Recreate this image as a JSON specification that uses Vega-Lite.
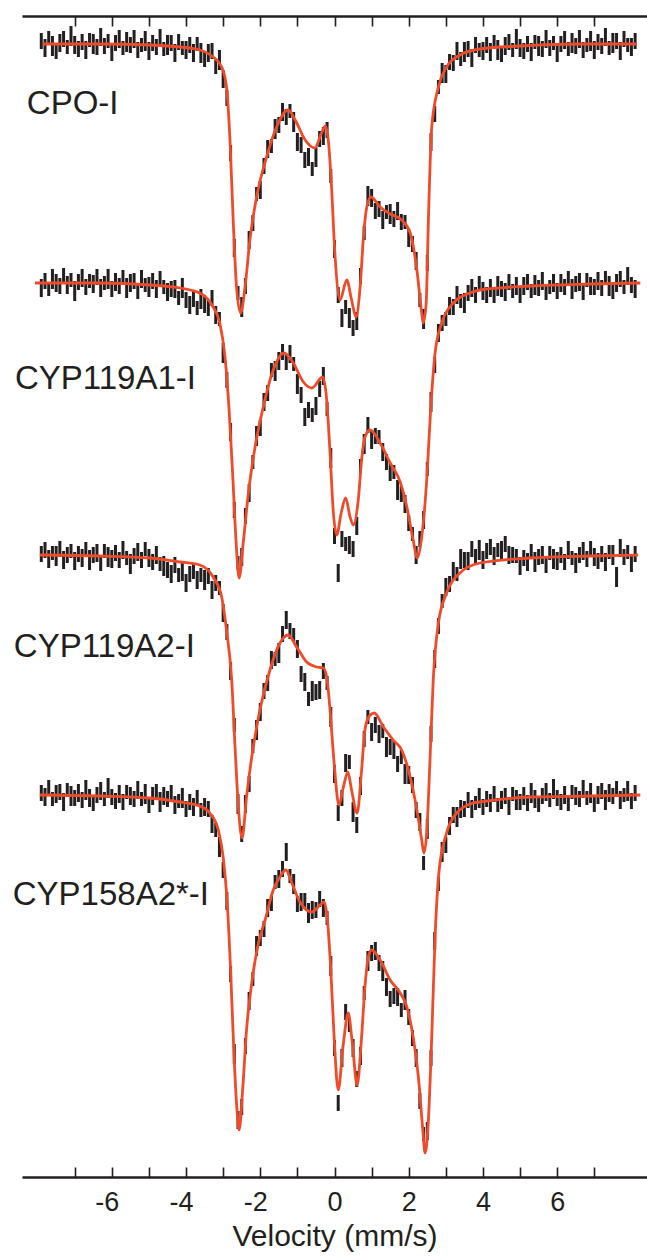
{
"$schema":"https://vega.github.io/schema/vega-lite/v6.json",
"width":625,"height":1161,"autosize":"none",
"padding":{"left":22,"top":16,"right":0,"bottom":79},
"background":"white",
"config":{"view":{"stroke":null},"font":"Liberation Sans","axis":{"grid":false}},
"datasets":{
"lab":[
{"label":"CPO-I","v":-8.29,"t":10.63},
{"label":"CYP119A1-I","v":-8.61,"t":7.88},
{"label":"CYP119A2-I","v":-8.64,"t":5.2},
{"label":"CYP158A2*-I","v":-8.67,"t":2.72}
],
"fit":[
{"s":1,"v":-7.86,"t":11.33},{"s":1,"v":-6.32,"t":11.33},{"s":1,"v":-4.97,"t":11.32},{"s":1,"v":-4.16,"t":11.3},{"s":1,"v":-3.63,"t":11.27},{"s":1,"v":-3.27,"t":11.2},{"s":1,"v":-3.04,"t":11.1},{"s":1,"v":-2.91,"t":10.9},{"s":1,"v":-2.82,"t":10.4},{"s":1,"v":-2.73,"t":9.57},{"s":1,"v":-2.64,"t":8.9},{"s":1,"v":-2.53,"t":8.64},{"s":1,"v":-2.41,"t":8.9},{"s":1,"v":-2.28,"t":9.37},{"s":1,"v":-2.1,"t":9.8},{"s":1,"v":-1.83,"t":10.2},{"s":1,"v":-1.56,"t":10.5},{"s":1,"v":-1.25,"t":10.67},{"s":1,"v":-1.06,"t":10.57},{"s":1,"v":-0.79,"t":10.37},{"s":1,"v":-0.53,"t":10.29},{"s":1,"v":-0.35,"t":10.44},{"s":1,"v":-0.24,"t":10.51},{"s":1,"v":-0.15,"t":10.3},{"s":1,"v":-0.08,"t":9.9},{"s":1,"v":0.01,"t":9.24},{"s":1,"v":0.15,"t":8.77},{"s":1,"v":0.33,"t":8.97},{"s":1,"v":0.46,"t":8.77},{"s":1,"v":0.58,"t":8.6},{"s":1,"v":0.69,"t":8.9},{"s":1,"v":0.78,"t":9.4},{"s":1,"v":0.87,"t":9.7},{"s":1,"v":0.98,"t":9.8},{"s":1,"v":1.23,"t":9.7},{"s":1,"v":1.5,"t":9.63},{"s":1,"v":1.81,"t":9.57},{"s":1,"v":2.04,"t":9.44},{"s":1,"v":2.22,"t":9.07},{"s":1,"v":2.35,"t":8.64},{"s":1,"v":2.39,"t":8.54},{"s":1,"v":2.47,"t":8.74},{"s":1,"v":2.53,"t":9.57},{"s":1,"v":2.62,"t":10.5},{"s":1,"v":2.8,"t":10.9},{"s":1,"v":3.02,"t":11.1},{"s":1,"v":3.38,"t":11.22},{"s":1,"v":3.92,"t":11.28},{"s":1,"v":5.0,"t":11.31},{"s":1,"v":6.62,"t":11.33},{"s":1,"v":8.15,"t":11.33},
{"s":2,"v":-8.07,"t":8.94},{"s":2,"v":-6.32,"t":8.94},{"s":2,"v":-4.97,"t":8.92},{"s":2,"v":-4.16,"t":8.89},{"s":2,"v":-3.63,"t":8.84},{"s":2,"v":-3.27,"t":8.7},{"s":2,"v":-3.09,"t":8.54},{"s":2,"v":-2.95,"t":8.2},{"s":2,"v":-2.84,"t":7.67},{"s":2,"v":-2.74,"t":7.0},{"s":2,"v":-2.65,"t":6.34},{"s":2,"v":-2.57,"t":5.99},{"s":2,"v":-2.46,"t":6.34},{"s":2,"v":-2.32,"t":6.84},{"s":2,"v":-2.14,"t":7.3},{"s":2,"v":-1.92,"t":7.7},{"s":2,"v":-1.65,"t":8.07},{"s":2,"v":-1.36,"t":8.24},{"s":2,"v":-1.11,"t":8.14},{"s":2,"v":-0.84,"t":7.95},{"s":2,"v":-0.61,"t":7.89},{"s":2,"v":-0.32,"t":8.0},{"s":2,"v":-0.21,"t":7.77},{"s":2,"v":-0.12,"t":7.24},{"s":2,"v":-0.03,"t":6.64},{"s":2,"v":0.06,"t":6.42},{"s":2,"v":0.18,"t":6.64},{"s":2,"v":0.3,"t":6.79},{"s":2,"v":0.42,"t":6.6},{"s":2,"v":0.51,"t":6.52},{"s":2,"v":0.64,"t":6.77},{"s":2,"v":0.73,"t":7.17},{"s":2,"v":0.82,"t":7.4},{"s":2,"v":0.96,"t":7.47},{"s":2,"v":1.23,"t":7.34},{"s":2,"v":1.5,"t":7.14},{"s":2,"v":1.77,"t":6.95},{"s":2,"v":1.95,"t":6.7},{"s":2,"v":2.12,"t":6.37},{"s":2,"v":2.23,"t":6.19},{"s":2,"v":2.35,"t":6.4},{"s":2,"v":2.49,"t":7.0},{"s":2,"v":2.59,"t":7.67},{"s":2,"v":2.71,"t":8.24},{"s":2,"v":2.89,"t":8.54},{"s":2,"v":3.2,"t":8.74},{"s":2,"v":3.65,"t":8.84},{"s":2,"v":3.92,"t":8.87},{"s":2,"v":5.27,"t":8.91},{"s":2,"v":6.89,"t":8.93},{"s":2,"v":8.24,"t":8.94},
{"s":3,"v":-7.94,"t":6.22},{"s":3,"v":-6.32,"t":6.21},{"s":3,"v":-4.97,"t":6.19},{"s":3,"v":-4.16,"t":6.15},{"s":3,"v":-3.63,"t":6.12},{"s":3,"v":-3.27,"t":6.0},{"s":3,"v":-3.04,"t":5.8},{"s":3,"v":-2.91,"t":5.47},{"s":3,"v":-2.77,"t":4.97},{"s":3,"v":-2.68,"t":4.3},{"s":3,"v":-2.59,"t":3.7},{"s":3,"v":-2.49,"t":3.39},{"s":3,"v":-2.37,"t":3.8},{"s":3,"v":-2.23,"t":4.2},{"s":3,"v":-2.01,"t":4.67},{"s":3,"v":-1.74,"t":5.07},{"s":3,"v":-1.47,"t":5.34},{"s":3,"v":-1.25,"t":5.42},{"s":3,"v":-1.02,"t":5.3},{"s":3,"v":-0.75,"t":5.15},{"s":3,"v":-0.48,"t":5.1},{"s":3,"v":-0.3,"t":5.09},{"s":3,"v":-0.21,"t":5.0},{"s":3,"v":-0.12,"t":4.67},{"s":3,"v":-0.01,"t":4.14},{"s":3,"v":0.12,"t":3.72},{"s":3,"v":0.24,"t":3.9},{"s":3,"v":0.36,"t":4.05},{"s":3,"v":0.46,"t":3.87},{"s":3,"v":0.61,"t":3.64},{"s":3,"v":0.73,"t":4.07},{"s":3,"v":0.82,"t":4.47},{"s":3,"v":0.94,"t":4.61},{"s":3,"v":1.07,"t":4.64},{"s":3,"v":1.32,"t":4.5},{"s":3,"v":1.58,"t":4.37},{"s":3,"v":1.81,"t":4.27},{"s":3,"v":2.04,"t":4.0},{"s":3,"v":2.22,"t":3.67},{"s":3,"v":2.35,"t":3.37},{"s":3,"v":2.41,"t":3.24},{"s":3,"v":2.49,"t":3.47},{"s":3,"v":2.57,"t":4.14},{"s":3,"v":2.66,"t":4.97},{"s":3,"v":2.8,"t":5.54},{"s":3,"v":3.02,"t":5.84},{"s":3,"v":3.38,"t":6.04},{"s":3,"v":3.92,"t":6.14},{"s":3,"v":5.27,"t":6.19},{"s":3,"v":6.89,"t":6.21},{"s":3,"v":8.18,"t":6.22},
{"s":4,"v":-7.94,"t":3.82},{"s":4,"v":-6.32,"t":3.81},{"s":4,"v":-4.97,"t":3.79},{"s":4,"v":-4.16,"t":3.75},{"s":4,"v":-3.63,"t":3.71},{"s":4,"v":-3.36,"t":3.64},{"s":4,"v":-3.13,"t":3.47},{"s":4,"v":-3.0,"t":3.2},{"s":4,"v":-2.89,"t":2.74},{"s":4,"v":-2.8,"t":2.07},{"s":4,"v":-2.71,"t":1.24},{"s":4,"v":-2.64,"t":0.74},{"s":4,"v":-2.57,"t":0.47},{"s":4,"v":-2.47,"t":0.9},{"s":4,"v":-2.37,"t":1.47},{"s":4,"v":-2.23,"t":1.94},{"s":4,"v":-2.05,"t":2.34},{"s":4,"v":-1.87,"t":2.57},{"s":4,"v":-1.65,"t":2.87},{"s":4,"v":-1.47,"t":3.0},{"s":4,"v":-1.31,"t":3.07},{"s":4,"v":-1.15,"t":2.94},{"s":4,"v":-0.93,"t":2.75},{"s":4,"v":-0.61,"t":2.65},{"s":4,"v":-0.39,"t":2.72},{"s":4,"v":-0.28,"t":2.75},{"s":4,"v":-0.19,"t":2.57},{"s":4,"v":-0.1,"t":2.07},{"s":4,"v":-0.01,"t":1.4},{"s":4,"v":0.1,"t":0.87},{"s":4,"v":0.24,"t":1.34},{"s":4,"v":0.37,"t":1.64},{"s":4,"v":0.48,"t":1.34},{"s":4,"v":0.61,"t":0.92},{"s":4,"v":0.73,"t":1.4},{"s":4,"v":0.82,"t":1.9},{"s":4,"v":0.91,"t":2.2},{"s":4,"v":1.0,"t":2.27},{"s":4,"v":1.23,"t":2.17},{"s":4,"v":1.5,"t":1.97},{"s":4,"v":1.77,"t":1.84},{"s":4,"v":1.95,"t":1.7},{"s":4,"v":2.12,"t":1.4},{"s":4,"v":2.26,"t":1.0},{"s":4,"v":2.38,"t":0.47},{"s":4,"v":2.44,"t":0.24},{"s":4,"v":2.53,"t":0.57},{"s":4,"v":2.62,"t":1.4},{"s":4,"v":2.71,"t":2.4},{"s":4,"v":2.82,"t":3.07},{"s":4,"v":3.02,"t":3.44},{"s":4,"v":3.29,"t":3.64},{"s":4,"v":3.74,"t":3.74},{"s":4,"v":3.92,"t":3.75},{"s":4,"v":5.27,"t":3.8},{"s":4,"v":6.89,"t":3.81},{"s":4,"v":8.24,"t":3.82}
],
"pts":[
{"s":1,"v":-7.9,"c":11.36,"e":0.08},{"s":1,"v":-7.8,"c":11.29,"e":0.09},{"s":1,"v":-7.7,"c":11.39,"e":0.07},{"s":1,"v":-7.6,"c":11.31,"e":0.1},{"s":1,"v":-7.5,"c":11.26,"e":0.08},{"s":1,"v":-7.4,"c":11.34,"e":0.09},{"s":1,"v":-7.3,"c":11.38,"e":0.08},{"s":1,"v":-7.2,"c":11.3,"e":0.07},{"s":1,"v":-7.1,"c":11.41,"e":0.1},{"s":1,"v":-7.0,"c":11.32,"e":0.09},
{"s":1,"v":-6.9,"c":11.28,"e":0.08},{"s":1,"v":-6.8,"c":11.35,"e":0.08},{"s":1,"v":-6.7,"c":11.27,"e":0.09},{"s":1,"v":-6.6,"c":11.37,"e":0.07},{"s":1,"v":-6.5,"c":11.33,"e":0.1},{"s":1,"v":-6.4,"c":11.3,"e":0.08},{"s":1,"v":-6.3,"c":11.4,"e":0.09},{"s":1,"v":-6.2,"c":11.31,"e":0.08},{"s":1,"v":-6.1,"c":11.36,"e":0.07},{"s":1,"v":-6.0,"c":11.25,"e":0.09},
{"s":1,"v":-5.9,"c":11.34,"e":0.08},{"s":1,"v":-5.8,"c":11.38,"e":0.09},{"s":1,"v":-5.7,"c":11.29,"e":0.07},{"s":1,"v":-5.6,"c":11.35,"e":0.1},{"s":1,"v":-5.5,"c":11.32,"e":0.08},{"s":1,"v":-5.4,"c":11.38,"e":0.09},{"s":1,"v":-5.3,"c":11.27,"e":0.08},{"s":1,"v":-5.2,"c":11.32,"e":0.07},{"s":1,"v":-5.1,"c":11.36,"e":0.1},{"s":1,"v":-5.0,"c":11.26,"e":0.09},
{"s":1,"v":-4.9,"c":11.34,"e":0.08},{"s":1,"v":-4.8,"c":11.3,"e":0.08},{"s":1,"v":-4.7,"c":11.39,"e":0.09},{"s":1,"v":-4.6,"c":11.28,"e":0.07},{"s":1,"v":-4.5,"c":11.32,"e":0.1},{"s":1,"v":-4.4,"c":11.34,"e":0.08},{"s":1,"v":-4.3,"c":11.24,"e":0.09},{"s":1,"v":-4.2,"c":11.35,"e":0.08},{"s":1,"v":-4.1,"c":11.29,"e":0.07},{"s":1,"v":-4.0,"c":11.27,"e":0.09},
{"s":1,"v":-3.9,"c":11.32,"e":0.08},{"s":1,"v":-3.8,"c":11.24,"e":0.09},{"s":1,"v":-3.7,"c":11.33,"e":0.07},{"s":1,"v":-3.6,"c":11.24,"e":0.1},{"s":1,"v":-3.5,"c":11.18,"e":0.08},{"s":1,"v":-3.4,"c":11.24,"e":0.09},{"s":1,"v":-3.3,"c":11.26,"e":0.08},{"s":1,"v":-3.2,"c":11.1,"e":0.07},{"s":1,"v":-3.1,"c":11.17,"e":0.1},{"s":1,"v":-3.0,"c":10.98,"e":0.09},
{"s":1,"v":-2.9,"c":10.79,"e":0.08},{"s":1,"v":-2.8,"c":10.24,"e":0.08},{"s":1,"v":-2.7,"c":9.29,"e":0.09},{"s":1,"v":-2.6,"c":8.84,"e":0.07},{"s":1,"v":-2.5,"c":8.7,"e":0.1},{"s":1,"v":-2.4,"c":8.91,"e":0.08},{"s":1,"v":-2.3,"c":9.37,"e":0.09},{"s":1,"v":-2.2,"c":9.54,"e":0.08},{"s":1,"v":-2.1,"c":9.83,"e":0.07},{"s":1,"v":-2.0,"c":9.87,"e":0.09},
{"s":1,"v":-1.9,"c":10.11,"e":0.08},{"s":1,"v":-1.8,"c":10.28,"e":0.09},{"s":1,"v":-1.7,"c":10.31,"e":0.07},{"s":1,"v":-1.6,"c":10.48,"e":0.1},{"s":1,"v":-1.5,"c":10.52,"e":0.08},{"s":1,"v":-1.4,"c":10.65,"e":0.09},{"s":1,"v":-1.3,"c":10.6,"e":0.08},{"s":1,"v":-1.2,"c":10.66,"e":0.07},{"s":1,"v":-1.1,"c":10.55,"e":0.1},{"s":1,"v":-1.0,"c":10.35,"e":0.09},
{"s":1,"v":-0.9,"c":10.32,"e":0.08},{"s":1,"v":-0.8,"c":10.17,"e":0.08},{"s":1,"v":-0.7,"c":10.2,"e":0.09},{"s":1,"v":-0.6,"c":10.08,"e":0.07},{"s":1,"v":-0.5,"c":10.2,"e":0.1},{"s":1,"v":-0.4,"c":10.38,"e":0.08},{"s":1,"v":-0.3,"c":10.41,"e":0.09},{"s":1,"v":-0.2,"c":10.47,"e":0.08},{"s":1,"v":-0.1,"c":10.01,"e":0.07},{"s":1,"v":0.0,"c":9.28,"e":0.09},
{"s":1,"v":0.1,"c":8.82,"e":0.08},{"s":1,"v":0.2,"c":8.59,"e":0.09},{"s":1,"v":0.3,"c":8.7,"e":0.07},{"s":1,"v":0.4,"c":8.59,"e":0.1},{"s":1,"v":0.5,"c":8.49,"e":0.08},{"s":1,"v":0.6,"c":8.56,"e":0.09},{"s":1,"v":0.7,"c":9.01,"e":0.08},{"s":1,"v":0.8,"c":9.44,"e":0.07},{"s":1,"v":0.9,"c":9.81,"e":0.1},{"s":1,"v":1.0,"c":9.79,"e":0.09},
{"s":1,"v":1.1,"c":9.66,"e":0.08},{"s":1,"v":1.2,"c":9.68,"e":0.08},{"s":1,"v":1.3,"c":9.57,"e":0.09},{"s":1,"v":1.4,"c":9.65,"e":0.07},{"s":1,"v":1.5,"c":9.63,"e":0.1},{"s":1,"v":1.6,"c":9.58,"e":0.08},{"s":1,"v":1.7,"c":9.66,"e":0.09},{"s":1,"v":1.8,"c":9.55,"e":0.08},{"s":1,"v":1.9,"c":9.55,"e":0.07},{"s":1,"v":2.0,"c":9.39,"e":0.09},
{"s":1,"v":2.1,"c":9.33,"e":0.08},{"s":1,"v":2.2,"c":9.16,"e":0.09},{"s":1,"v":2.3,"c":8.77,"e":0.07},{"s":1,"v":2.4,"c":8.58,"e":0.1},{"s":1,"v":2.5,"c":9.14,"e":0.08},{"s":1,"v":2.6,"c":10.35,"e":0.09},{"s":1,"v":2.7,"c":10.63,"e":0.08},{"s":1,"v":2.8,"c":10.9,"e":0.07},{"s":1,"v":2.9,"c":11.04,"e":0.1},{"s":1,"v":3.0,"c":11.03,"e":0.09},
{"s":1,"v":3.1,"c":11.15,"e":0.08},{"s":1,"v":3.2,"c":11.14,"e":0.08},{"s":1,"v":3.3,"c":11.26,"e":0.09},{"s":1,"v":3.4,"c":11.18,"e":0.07},{"s":1,"v":3.5,"c":11.25,"e":0.1},{"s":1,"v":3.6,"c":11.28,"e":0.08},{"s":1,"v":3.7,"c":11.19,"e":0.09},{"s":1,"v":3.8,"c":11.32,"e":0.08},{"s":1,"v":3.9,"c":11.27,"e":0.07},{"s":1,"v":4.0,"c":11.26,"e":0.09},
{"s":1,"v":4.1,"c":11.32,"e":0.08},{"s":1,"v":4.2,"c":11.25,"e":0.09},{"s":1,"v":4.3,"c":11.35,"e":0.07},{"s":1,"v":4.4,"c":11.27,"e":0.1},{"s":1,"v":4.5,"c":11.23,"e":0.08},{"s":1,"v":4.6,"c":11.31,"e":0.09},{"s":1,"v":4.7,"c":11.35,"e":0.08},{"s":1,"v":4.8,"c":11.27,"e":0.07},{"s":1,"v":4.9,"c":11.38,"e":0.1},{"s":1,"v":5.0,"c":11.29,"e":0.09},
{"s":1,"v":5.1,"c":11.26,"e":0.08},{"s":1,"v":5.2,"c":11.33,"e":0.08},{"s":1,"v":5.3,"c":11.25,"e":0.09},{"s":1,"v":5.4,"c":11.35,"e":0.07},{"s":1,"v":5.5,"c":11.31,"e":0.1},{"s":1,"v":5.6,"c":11.28,"e":0.08},{"s":1,"v":5.7,"c":11.38,"e":0.09},{"s":1,"v":5.8,"c":11.29,"e":0.08},{"s":1,"v":5.9,"c":11.34,"e":0.07},{"s":1,"v":6.0,"c":11.24,"e":0.09},
{"s":1,"v":6.1,"c":11.33,"e":0.08},{"s":1,"v":6.2,"c":11.37,"e":0.09},{"s":1,"v":6.3,"c":11.28,"e":0.07},{"s":1,"v":6.4,"c":11.34,"e":0.1},{"s":1,"v":6.5,"c":11.31,"e":0.08},{"s":1,"v":6.6,"c":11.38,"e":0.09},{"s":1,"v":6.7,"c":11.27,"e":0.08},{"s":1,"v":6.8,"c":11.32,"e":0.07},{"s":1,"v":6.9,"c":11.36,"e":0.1},{"s":1,"v":7.0,"c":11.27,"e":0.09},
{"s":1,"v":7.1,"c":11.35,"e":0.08},{"s":1,"v":7.2,"c":11.31,"e":0.08},{"s":1,"v":7.3,"c":11.4,"e":0.09},{"s":1,"v":7.4,"c":11.29,"e":0.07},{"s":1,"v":7.5,"c":11.34,"e":0.1},{"s":1,"v":7.6,"c":11.36,"e":0.08},{"s":1,"v":7.7,"c":11.26,"e":0.09},{"s":1,"v":7.8,"c":11.38,"e":0.08},{"s":1,"v":7.9,"c":11.32,"e":0.07},{"s":1,"v":8.0,"c":11.3,"e":0.09},{"s":1,"v":8.1,"c":11.36,"e":0.08},
{"s":2,"v":-7.9,"c":8.89,"e":0.09},{"s":2,"v":-7.8,"c":8.96,"e":0.08},{"s":2,"v":-7.7,"c":8.88,"e":0.07},{"s":2,"v":-7.6,"c":8.98,"e":0.1},{"s":2,"v":-7.5,"c":8.94,"e":0.09},{"s":2,"v":-7.4,"c":8.91,"e":0.08},{"s":2,"v":-7.3,"c":9.01,"e":0.08},{"s":2,"v":-7.2,"c":8.92,"e":0.09},{"s":2,"v":-7.1,"c":8.97,"e":0.07},{"s":2,"v":-7.0,"c":8.86,"e":0.1},
{"s":2,"v":-6.9,"c":8.95,"e":0.08},{"s":2,"v":-6.8,"c":8.99,"e":0.09},{"s":2,"v":-6.7,"c":8.9,"e":0.08},{"s":2,"v":-6.6,"c":8.96,"e":0.07},{"s":2,"v":-6.5,"c":8.93,"e":0.09},{"s":2,"v":-6.4,"c":9.0,"e":0.08},{"s":2,"v":-6.3,"c":8.89,"e":0.09},{"s":2,"v":-6.2,"c":8.94,"e":0.07},{"s":2,"v":-6.1,"c":8.98,"e":0.1},{"s":2,"v":-6.0,"c":8.88,"e":0.08},
{"s":2,"v":-5.9,"c":8.95,"e":0.09},{"s":2,"v":-5.8,"c":8.91,"e":0.08},{"s":2,"v":-5.7,"c":9.0,"e":0.07},{"s":2,"v":-5.6,"c":8.89,"e":0.1},{"s":2,"v":-5.5,"c":8.94,"e":0.09},{"s":2,"v":-5.4,"c":8.96,"e":0.08},{"s":2,"v":-5.3,"c":8.86,"e":0.08},{"s":2,"v":-5.2,"c":8.98,"e":0.09},{"s":2,"v":-5.1,"c":8.92,"e":0.07},{"s":2,"v":-5.0,"c":8.9,"e":0.1},
{"s":2,"v":-4.9,"c":8.96,"e":0.08},{"s":2,"v":-4.8,"c":8.88,"e":0.09},{"s":2,"v":-4.7,"c":8.98,"e":0.08},{"s":2,"v":-4.6,"c":8.9,"e":0.07},{"s":2,"v":-4.5,"c":8.85,"e":0.09},{"s":2,"v":-4.4,"c":8.88,"e":0.08},{"s":2,"v":-4.3,"c":8.88,"e":0.09},{"s":2,"v":-4.2,"c":8.79,"e":0.07},{"s":2,"v":-4.1,"c":8.89,"e":0.1},{"s":2,"v":-4.0,"c":8.77,"e":0.08},
{"s":2,"v":-3.9,"c":8.72,"e":0.09},{"s":2,"v":-3.8,"c":8.78,"e":0.08},{"s":2,"v":-3.7,"c":8.69,"e":0.07},{"s":2,"v":-3.6,"c":8.78,"e":0.1},{"s":2,"v":-3.5,"c":8.73,"e":0.09},{"s":2,"v":-3.4,"c":8.69,"e":0.08},{"s":2,"v":-3.3,"c":8.79,"e":0.08},{"s":2,"v":-3.2,"c":8.62,"e":0.09},{"s":2,"v":-3.1,"c":8.58,"e":0.07},{"s":2,"v":-3.0,"c":8.24,"e":0.1},
{"s":2,"v":-2.9,"c":7.97,"e":0.08},{"s":2,"v":-2.8,"c":7.45,"e":0.09},{"s":2,"v":-2.7,"c":6.67,"e":0.08},{"s":2,"v":-2.6,"c":6.14,"e":0.07},{"s":2,"v":-2.5,"c":6.2,"e":0.09},{"s":2,"v":-2.4,"c":6.61,"e":0.08},{"s":2,"v":-2.3,"c":6.84,"e":0.09},{"s":2,"v":-2.2,"c":7.15,"e":0.07},{"s":2,"v":-2.1,"c":7.41,"e":0.1},{"s":2,"v":-2.0,"c":7.49,"e":0.08},
{"s":2,"v":-1.9,"c":7.75,"e":0.09},{"s":2,"v":-1.8,"c":7.84,"e":0.08},{"s":2,"v":-1.7,"c":8.07,"e":0.07},{"s":2,"v":-1.6,"c":8.06,"e":0.1},{"s":2,"v":-1.5,"c":8.16,"e":0.09},{"s":2,"v":-1.4,"c":8.25,"e":0.08},{"s":2,"v":-1.3,"c":8.15,"e":0.08},{"s":2,"v":-1.2,"c":8.23,"e":0.09},{"s":2,"v":-1.1,"c":8.13,"e":0.07},{"s":2,"v":-1.0,"c":7.93,"e":0.1},
{"s":2,"v":-0.9,"c":7.82,"e":0.08},{"s":2,"v":-0.8,"c":7.6,"e":0.09},{"s":2,"v":-0.7,"c":7.67,"e":0.08},{"s":2,"v":-0.6,"c":7.62,"e":0.07},{"s":2,"v":-0.5,"c":7.71,"e":0.09},{"s":2,"v":-0.4,"c":7.88,"e":0.08},{"s":2,"v":-0.3,"c":8.01,"e":0.09},{"s":2,"v":-0.2,"c":7.68,"e":0.07},{"s":2,"v":-0.1,"c":7.19,"e":0.1},{"s":2,"v":0.0,"c":6.41,"e":0.08},
{"s":2,"v":0.1,"c":6.04,"e":0.09},{"s":2,"v":0.2,"c":6.38,"e":0.08},{"s":2,"v":0.3,"c":6.33,"e":0.07},{"s":2,"v":0.4,"c":6.32,"e":0.09},{"s":2,"v":0.5,"c":6.28,"e":0.08},{"s":2,"v":0.6,"c":6.51,"e":0.09},{"s":2,"v":0.7,"c":7.11,"e":0.07},{"s":2,"v":0.8,"c":7.33,"e":0.1},{"s":2,"v":0.9,"c":7.52,"e":0.08},{"s":2,"v":1.0,"c":7.37,"e":0.09},
{"s":2,"v":1.1,"c":7.41,"e":0.08},{"s":2,"v":1.2,"c":7.4,"e":0.07},{"s":2,"v":1.3,"c":7.25,"e":0.09},{"s":2,"v":1.4,"c":7.15,"e":0.08},{"s":2,"v":1.5,"c":7.05,"e":0.09},{"s":2,"v":1.6,"c":7.05,"e":0.07},{"s":2,"v":1.7,"c":6.87,"e":0.1},{"s":2,"v":1.8,"c":6.83,"e":0.08},{"s":2,"v":1.9,"c":6.73,"e":0.09},{"s":2,"v":2.0,"c":6.54,"e":0.08},
{"s":2,"v":2.1,"c":6.43,"e":0.07},{"s":2,"v":2.2,"c":6.22,"e":0.09},{"s":2,"v":2.3,"c":6.38,"e":0.08},{"s":2,"v":2.4,"c":6.57,"e":0.09},{"s":2,"v":2.5,"c":7.08,"e":0.07},{"s":2,"v":2.6,"c":7.75,"e":0.1},{"s":2,"v":2.7,"c":8.12,"e":0.08},{"s":2,"v":2.8,"c":8.44,"e":0.09},{"s":2,"v":2.9,"c":8.54,"e":0.08},{"s":2,"v":3.0,"c":8.58,"e":0.07},
{"s":2,"v":3.1,"c":8.71,"e":0.09},{"s":2,"v":3.2,"c":8.7,"e":0.08},{"s":2,"v":3.3,"c":8.82,"e":0.09},{"s":2,"v":3.4,"c":8.76,"e":0.07},{"s":2,"v":3.5,"c":8.74,"e":0.1},{"s":2,"v":3.6,"c":8.84,"e":0.08},{"s":2,"v":3.7,"c":8.89,"e":0.09},{"s":2,"v":3.8,"c":8.82,"e":0.08},{"s":2,"v":3.9,"c":8.94,"e":0.07},{"s":2,"v":4.0,"c":8.86,"e":0.09},
{"s":2,"v":4.1,"c":8.82,"e":0.08},{"s":2,"v":4.2,"c":8.89,"e":0.09},{"s":2,"v":4.3,"c":8.81,"e":0.07},{"s":2,"v":4.4,"c":8.91,"e":0.1},{"s":2,"v":4.5,"c":8.88,"e":0.08},{"s":2,"v":4.6,"c":8.85,"e":0.09},{"s":2,"v":4.7,"c":8.95,"e":0.08},{"s":2,"v":4.8,"c":8.86,"e":0.07},{"s":2,"v":4.9,"c":8.91,"e":0.09},{"s":2,"v":5.0,"c":8.82,"e":0.08},
{"s":2,"v":5.1,"c":8.91,"e":0.09},{"s":2,"v":5.2,"c":8.95,"e":0.08},{"s":2,"v":5.3,"c":8.86,"e":0.07},{"s":2,"v":5.4,"c":8.92,"e":0.1},{"s":2,"v":5.5,"c":8.89,"e":0.08},{"s":2,"v":5.6,"c":8.96,"e":0.09},{"s":2,"v":5.7,"c":8.85,"e":0.08},{"s":2,"v":5.8,"c":8.9,"e":0.07},{"s":2,"v":5.9,"c":8.94,"e":0.09},{"s":2,"v":6.0,"c":8.86,"e":0.08},
{"s":2,"v":6.1,"c":8.94,"e":0.09},{"s":2,"v":6.2,"c":8.9,"e":0.08},{"s":2,"v":6.3,"c":8.99,"e":0.07},{"s":2,"v":6.4,"c":8.88,"e":0.1},{"s":2,"v":6.5,"c":8.93,"e":0.08},{"s":2,"v":6.6,"c":8.95,"e":0.09},{"s":2,"v":6.7,"c":8.85,"e":0.08},{"s":2,"v":6.8,"c":8.97,"e":0.07},{"s":2,"v":6.9,"c":8.91,"e":0.09},{"s":2,"v":7.0,"c":8.9,"e":0.08},
{"s":2,"v":7.1,"c":8.96,"e":0.09},{"s":2,"v":7.2,"c":8.89,"e":0.08},{"s":2,"v":7.3,"c":8.99,"e":0.07},{"s":2,"v":7.4,"c":8.91,"e":0.1},{"s":2,"v":7.5,"c":8.86,"e":0.08},{"s":2,"v":7.6,"c":8.94,"e":0.09},{"s":2,"v":7.7,"c":8.98,"e":0.08},{"s":2,"v":7.8,"c":8.9,"e":0.07},{"s":2,"v":7.9,"c":9.01,"e":0.09},{"s":2,"v":8.0,"c":8.92,"e":0.08},{"s":2,"v":8.1,"c":8.88,"e":0.09},
{"s":3,"v":-7.9,"c":6.23,"e":0.08},{"s":3,"v":-7.8,"c":6.27,"e":0.08},{"s":3,"v":-7.7,"c":6.18,"e":0.09},{"s":3,"v":-7.6,"c":6.24,"e":0.07},{"s":3,"v":-7.5,"c":6.21,"e":0.1},{"s":3,"v":-7.4,"c":6.28,"e":0.08},{"s":3,"v":-7.3,"c":6.17,"e":0.09},{"s":3,"v":-7.2,"c":6.22,"e":0.08},{"s":3,"v":-7.1,"c":6.26,"e":0.07},{"s":3,"v":-7.0,"c":6.16,"e":0.09},
{"s":3,"v":-6.9,"c":6.23,"e":0.08},{"s":3,"v":-6.8,"c":6.19,"e":0.09},{"s":3,"v":-6.7,"c":6.28,"e":0.07},{"s":3,"v":-6.6,"c":6.17,"e":0.1},{"s":3,"v":-6.5,"c":6.22,"e":0.08},{"s":3,"v":-6.4,"c":6.24,"e":0.09},{"s":3,"v":-6.3,"c":6.14,"e":0.08},{"s":3,"v":-6.2,"c":6.26,"e":0.07},{"s":3,"v":-6.1,"c":6.2,"e":0.1},{"s":3,"v":-6.0,"c":6.18,"e":0.09},
{"s":3,"v":-5.9,"c":6.24,"e":0.08},{"s":3,"v":-5.8,"c":6.17,"e":0.08},{"s":3,"v":-5.7,"c":6.27,"e":0.09},{"s":3,"v":-5.6,"c":6.19,"e":0.07},{"s":3,"v":-5.5,"c":6.13,"e":0.1},{"s":3,"v":-5.4,"c":6.21,"e":0.08},{"s":3,"v":-5.3,"c":6.25,"e":0.09},{"s":3,"v":-5.2,"c":6.17,"e":0.08},{"s":3,"v":-5.1,"c":6.28,"e":0.07},{"s":3,"v":-5.0,"c":6.19,"e":0.09},
{"s":3,"v":-4.9,"c":6.15,"e":0.08},{"s":3,"v":-4.8,"c":6.22,"e":0.09},{"s":3,"v":-4.7,"c":6.13,"e":0.07},{"s":3,"v":-4.6,"c":6.11,"e":0.1},{"s":3,"v":-4.5,"c":6.07,"e":0.08},{"s":3,"v":-4.4,"c":6.03,"e":0.09},{"s":3,"v":-4.3,"c":6.12,"e":0.08},{"s":3,"v":-4.2,"c":6.02,"e":0.07},{"s":3,"v":-4.1,"c":6.06,"e":0.1},{"s":3,"v":-4.0,"c":5.94,"e":0.09},
{"s":3,"v":-3.9,"c":6.03,"e":0.08},{"s":3,"v":-3.8,"c":6.06,"e":0.08},{"s":3,"v":-3.7,"c":5.97,"e":0.09},{"s":3,"v":-3.6,"c":6.02,"e":0.07},{"s":3,"v":-3.5,"c":5.97,"e":0.1},{"s":3,"v":-3.4,"c":6.01,"e":0.08},{"s":3,"v":-3.3,"c":5.87,"e":0.09},{"s":3,"v":-3.2,"c":5.94,"e":0.08},{"s":3,"v":-3.1,"c":5.89,"e":0.07},{"s":3,"v":-3.0,"c":5.64,"e":0.09},
{"s":3,"v":-2.9,"c":5.45,"e":0.08},{"s":3,"v":-2.8,"c":5.06,"e":0.09},{"s":3,"v":-2.7,"c":4.52,"e":0.07},{"s":3,"v":-2.6,"c":3.73,"e":0.1},{"s":3,"v":-2.5,"c":3.43,"e":0.08},{"s":3,"v":-2.4,"c":3.73,"e":0.09},{"s":3,"v":-2.3,"c":3.93,"e":0.08},{"s":3,"v":-2.2,"c":4.31,"e":0.07},{"s":3,"v":-2.1,"c":4.47,"e":0.1},{"s":3,"v":-2.0,"c":4.65,"e":0.09},
{"s":3,"v":-1.9,"c":4.86,"e":0.08},{"s":3,"v":-1.8,"c":4.94,"e":0.08},{"s":3,"v":-1.7,"c":5.17,"e":0.09},{"s":3,"v":-1.6,"c":5.18,"e":0.07},{"s":3,"v":-1.5,"c":5.24,"e":0.1},{"s":3,"v":-1.4,"c":5.43,"e":0.08},{"s":3,"v":-1.3,"c":5.57,"e":0.09},{"s":3,"v":-1.2,"c":5.46,"e":0.08},{"s":3,"v":-1.1,"c":5.42,"e":0.07},{"s":3,"v":-1.0,"c":5.28,"e":0.09},
{"s":3,"v":-0.9,"c":5.03,"e":0.08},{"s":3,"v":-0.8,"c":4.95,"e":0.09},{"s":3,"v":-0.7,"c":4.78,"e":0.07},{"s":3,"v":-0.6,"c":4.86,"e":0.1},{"s":3,"v":-0.5,"c":4.85,"e":0.08},{"s":3,"v":-0.4,"c":4.87,"e":0.09},{"s":3,"v":-0.3,"c":5.06,"e":0.08},{"s":3,"v":-0.2,"c":4.94,"e":0.07},{"s":3,"v":-0.1,"c":4.6,"e":0.1},{"s":3,"v":0.0,"c":4.03,"e":0.09},
{"s":3,"v":0.1,"c":3.64,"e":0.08},{"s":3,"v":0.2,"c":3.79,"e":0.08},{"s":3,"v":0.3,"c":4.14,"e":0.09},{"s":3,"v":0.4,"c":4.15,"e":0.07},{"s":3,"v":0.5,"c":3.65,"e":0.1},{"s":3,"v":0.6,"c":3.52,"e":0.08},{"s":3,"v":0.7,"c":3.91,"e":0.09},{"s":3,"v":0.8,"c":4.38,"e":0.08},{"s":3,"v":0.9,"c":4.6,"e":0.07},{"s":3,"v":1.0,"c":4.45,"e":0.09},
{"s":3,"v":1.1,"c":4.52,"e":0.08},{"s":3,"v":1.2,"c":4.43,"e":0.09},{"s":3,"v":1.3,"c":4.46,"e":0.07},{"s":3,"v":1.4,"c":4.3,"e":0.1},{"s":3,"v":1.5,"c":4.3,"e":0.08},{"s":3,"v":1.6,"c":4.27,"e":0.09},{"s":3,"v":1.7,"c":4.13,"e":0.08},{"s":3,"v":1.8,"c":4.2,"e":0.07},{"s":3,"v":1.9,"c":4.03,"e":0.1},{"s":3,"v":2.0,"c":4.02,"e":0.09},
{"s":3,"v":2.1,"c":3.92,"e":0.08},{"s":3,"v":2.2,"c":3.67,"e":0.08},{"s":3,"v":2.3,"c":3.55,"e":0.09},{"s":3,"v":2.4,"c":3.14,"e":0.07},{"s":3,"v":2.5,"c":3.48,"e":0.1},{"s":3,"v":2.6,"c":4.43,"e":0.08},{"s":3,"v":2.7,"c":5.18,"e":0.09},{"s":3,"v":2.8,"c":5.51,"e":0.08},{"s":3,"v":2.9,"c":5.76,"e":0.07},{"s":3,"v":3.0,"c":5.9,"e":0.09},
{"s":3,"v":3.1,"c":5.93,"e":0.08},{"s":3,"v":3.2,"c":6.06,"e":0.09},{"s":3,"v":3.3,"c":6.03,"e":0.07},{"s":3,"v":3.4,"c":6.18,"e":0.1},{"s":3,"v":3.5,"c":6.17,"e":0.08},{"s":3,"v":3.6,"c":6.16,"e":0.09},{"s":3,"v":3.7,"c":6.28,"e":0.08},{"s":3,"v":3.8,"c":6.21,"e":0.07},{"s":3,"v":3.9,"c":6.27,"e":0.1},{"s":3,"v":4.0,"c":6.17,"e":0.09},
{"s":3,"v":4.1,"c":6.26,"e":0.08},{"s":3,"v":4.2,"c":6.3,"e":0.08},{"s":3,"v":4.3,"c":6.21,"e":0.09},{"s":3,"v":4.4,"c":6.27,"e":0.07},{"s":3,"v":4.5,"c":6.26,"e":0.1},{"s":3,"v":4.6,"c":6.33,"e":0.08},{"s":3,"v":4.7,"c":6.22,"e":0.09},{"s":3,"v":4.8,"c":6.22,"e":0.08},{"s":3,"v":4.9,"c":6.21,"e":0.07},{"s":3,"v":5.0,"c":6.11,"e":0.09},
{"s":3,"v":5.1,"c":6.19,"e":0.08},{"s":3,"v":5.2,"c":6.15,"e":0.09},{"s":3,"v":5.3,"c":6.26,"e":0.07},{"s":3,"v":5.4,"c":6.15,"e":0.1},{"s":3,"v":5.5,"c":6.2,"e":0.08},{"s":3,"v":5.6,"c":6.22,"e":0.09},{"s":3,"v":5.7,"c":6.12,"e":0.08},{"s":3,"v":5.8,"c":6.24,"e":0.07},{"s":3,"v":5.9,"c":6.18,"e":0.1},{"s":3,"v":6.0,"c":6.16,"e":0.09},
{"s":3,"v":6.1,"c":6.22,"e":0.08},{"s":3,"v":6.2,"c":6.15,"e":0.08},{"s":3,"v":6.3,"c":6.27,"e":0.09},{"s":3,"v":6.4,"c":6.19,"e":0.07},{"s":3,"v":6.5,"c":6.14,"e":0.1},{"s":3,"v":6.6,"c":6.22,"e":0.08},{"s":3,"v":6.7,"c":6.26,"e":0.09},{"s":3,"v":6.8,"c":6.18,"e":0.08},{"s":3,"v":6.9,"c":6.29,"e":0.07},{"s":3,"v":7.0,"c":6.2,"e":0.09},
{"s":3,"v":7.1,"c":6.16,"e":0.08},{"s":3,"v":7.2,"c":6.23,"e":0.08},{"s":3,"v":7.3,"c":6.15,"e":0.09},{"s":3,"v":7.4,"c":6.25,"e":0.07},{"s":3,"v":7.5,"c":6.22,"e":0.1},{"s":3,"v":7.6,"c":6.0,"e":0.1},{"s":3,"v":7.7,"c":6.29,"e":0.09},{"s":3,"v":7.8,"c":6.2,"e":0.08},{"s":3,"v":7.9,"c":6.25,"e":0.07},{"s":3,"v":8.0,"c":6.14,"e":0.09},{"s":3,"v":8.1,"c":6.23,"e":0.08},
{"s":4,"v":-7.9,"c":3.84,"e":0.08},{"s":4,"v":-7.8,"c":3.8,"e":0.09},{"s":4,"v":-7.7,"c":3.89,"e":0.08},{"s":4,"v":-7.6,"c":3.78,"e":0.07},{"s":4,"v":-7.5,"c":3.83,"e":0.09},{"s":4,"v":-7.4,"c":3.85,"e":0.08},{"s":4,"v":-7.3,"c":3.75,"e":0.09},{"s":4,"v":-7.2,"c":3.87,"e":0.07},{"s":4,"v":-7.1,"c":3.81,"e":0.1},{"s":4,"v":-7.0,"c":3.79,"e":0.08},
{"s":4,"v":-6.9,"c":3.84,"e":0.09},{"s":4,"v":-6.8,"c":3.77,"e":0.08},{"s":4,"v":-6.7,"c":3.87,"e":0.1},{"s":4,"v":-6.6,"c":3.79,"e":0.09},{"s":4,"v":-6.5,"c":3.74,"e":0.08},{"s":4,"v":-6.4,"c":3.82,"e":0.08},{"s":4,"v":-6.3,"c":3.86,"e":0.09},{"s":4,"v":-6.2,"c":3.78,"e":0.07},{"s":4,"v":-6.1,"c":3.89,"e":0.1},{"s":4,"v":-6.0,"c":3.8,"e":0.08},
{"s":4,"v":-5.9,"c":3.76,"e":0.08},{"s":4,"v":-5.8,"c":3.83,"e":0.09},{"s":4,"v":-5.7,"c":3.75,"e":0.08},{"s":4,"v":-5.6,"c":3.85,"e":0.07},{"s":4,"v":-5.5,"c":3.81,"e":0.09},{"s":4,"v":-5.4,"c":3.78,"e":0.08},{"s":4,"v":-5.3,"c":3.87,"e":0.09},{"s":4,"v":-5.2,"c":3.78,"e":0.07},{"s":4,"v":-5.1,"c":3.83,"e":0.1},{"s":4,"v":-5.0,"c":3.72,"e":0.08},
{"s":4,"v":-4.9,"c":3.81,"e":0.09},{"s":4,"v":-4.8,"c":3.85,"e":0.08},{"s":4,"v":-4.7,"c":3.75,"e":0.1},{"s":4,"v":-4.6,"c":3.81,"e":0.09},{"s":4,"v":-4.5,"c":3.78,"e":0.08},{"s":4,"v":-4.4,"c":3.84,"e":0.08},{"s":4,"v":-4.3,"c":3.72,"e":0.09},{"s":4,"v":-4.2,"c":3.76,"e":0.07},{"s":4,"v":-4.1,"c":3.79,"e":0.1},{"s":4,"v":-4.0,"c":3.68,"e":0.08},
{"s":4,"v":-3.9,"c":3.75,"e":0.08},{"s":4,"v":-3.8,"c":3.7,"e":0.09},{"s":4,"v":-3.7,"c":3.79,"e":0.08},{"s":4,"v":-3.6,"c":3.67,"e":0.07},{"s":4,"v":-3.5,"c":3.7,"e":0.09},{"s":4,"v":-3.4,"c":3.68,"e":0.08},{"s":4,"v":-3.3,"c":3.53,"e":0.09},{"s":4,"v":-3.2,"c":3.47,"e":0.07},{"s":4,"v":-3.1,"c":3.3,"e":0.1},{"s":4,"v":-3.0,"c":3.07,"e":0.08},
{"s":4,"v":-2.9,"c":2.76,"e":0.09},{"s":4,"v":-2.8,"c":2.03,"e":0.08},{"s":4,"v":-2.7,"c":1.23,"e":0.1},{"s":4,"v":-2.6,"c":0.57,"e":0.09},{"s":4,"v":-2.5,"c":0.7,"e":0.08},{"s":4,"v":-2.4,"c":1.31,"e":0.08},{"s":4,"v":-2.3,"c":1.76,"e":0.09},{"s":4,"v":-2.2,"c":1.98,"e":0.07},{"s":4,"v":-2.1,"c":2.31,"e":0.1},{"s":4,"v":-2.0,"c":2.39,"e":0.08},
{"s":4,"v":-1.9,"c":2.48,"e":0.08},{"s":4,"v":-1.8,"c":2.69,"e":0.09},{"s":4,"v":-1.7,"c":2.74,"e":0.08},{"s":4,"v":-1.6,"c":2.95,"e":0.07},{"s":4,"v":-1.5,"c":2.98,"e":0.09},{"s":4,"v":-1.4,"c":3.08,"e":0.08},{"s":4,"v":-1.3,"c":3.25,"e":0.09},{"s":4,"v":-1.2,"c":3.01,"e":0.07},{"s":4,"v":-1.1,"c":2.93,"e":0.1},{"s":4,"v":-1.0,"c":2.73,"e":0.08},
{"s":4,"v":-0.9,"c":2.75,"e":0.09},{"s":4,"v":-0.8,"c":2.76,"e":0.08},{"s":4,"v":-0.7,"c":2.64,"e":0.1},{"s":4,"v":-0.6,"c":2.67,"e":0.09},{"s":4,"v":-0.5,"c":2.67,"e":0.08},{"s":4,"v":-0.4,"c":2.78,"e":0.08},{"s":4,"v":-0.3,"c":2.69,"e":0.09},{"s":4,"v":-0.2,"c":2.59,"e":0.07},{"s":4,"v":-0.1,"c":2.11,"e":0.1},{"s":4,"v":0.0,"c":1.29,"e":0.08},
{"s":4,"v":0.1,"c":0.74,"e":0.08},{"s":4,"v":0.2,"c":1.19,"e":0.09},{"s":4,"v":0.3,"c":1.65,"e":0.08},{"s":4,"v":0.4,"c":1.52,"e":0.07},{"s":4,"v":0.5,"c":1.29,"e":0.09},{"s":4,"v":0.6,"c":0.98,"e":0.08},{"s":4,"v":0.7,"c":1.21,"e":0.09},{"s":4,"v":0.8,"c":1.84,"e":0.07},{"s":4,"v":0.9,"c":2.16,"e":0.1},{"s":4,"v":1.0,"c":2.24,"e":0.08},
{"s":4,"v":1.1,"c":2.26,"e":0.09},{"s":4,"v":1.2,"c":2.14,"e":0.08},{"s":4,"v":1.3,"c":2.06,"e":0.1},{"s":4,"v":1.4,"c":1.9,"e":0.09},{"s":4,"v":1.5,"c":1.78,"e":0.08},{"s":4,"v":1.6,"c":1.81,"e":0.08},{"s":4,"v":1.7,"c":1.8,"e":0.09},{"s":4,"v":1.8,"c":1.67,"e":0.07},{"s":4,"v":1.9,"c":1.77,"e":0.1},{"s":4,"v":2.0,"c":1.6,"e":0.08},
{"s":4,"v":2.1,"c":1.39,"e":0.08},{"s":4,"v":2.2,"c":1.19,"e":0.09},{"s":4,"v":2.3,"c":0.76,"e":0.08},{"s":4,"v":2.4,"c":0.43,"e":0.07},{"s":4,"v":2.5,"c":0.46,"e":0.09},{"s":4,"v":2.6,"c":1.19,"e":0.08},{"s":4,"v":2.7,"c":2.36,"e":0.09},{"s":4,"v":2.8,"c":2.93,"e":0.07},{"s":4,"v":2.9,"c":3.25,"e":0.1},{"s":4,"v":3.0,"c":3.32,"e":0.08},
{"s":4,"v":3.1,"c":3.51,"e":0.09},{"s":4,"v":3.2,"c":3.62,"e":0.08},{"s":4,"v":3.3,"c":3.6,"e":0.1},{"s":4,"v":3.4,"c":3.68,"e":0.09},{"s":4,"v":3.5,"c":3.68,"e":0.08},{"s":4,"v":3.6,"c":3.77,"e":0.08},{"s":4,"v":3.7,"c":3.68,"e":0.09},{"s":4,"v":3.8,"c":3.74,"e":0.07},{"s":4,"v":3.9,"c":3.79,"e":0.1},{"s":4,"v":4.0,"c":3.7,"e":0.08},
{"s":4,"v":4.1,"c":3.78,"e":0.08},{"s":4,"v":4.2,"c":3.74,"e":0.09},{"s":4,"v":4.3,"c":3.83,"e":0.08},{"s":4,"v":4.4,"c":3.72,"e":0.07},{"s":4,"v":4.5,"c":3.77,"e":0.09},{"s":4,"v":4.6,"c":3.81,"e":0.08},{"s":4,"v":4.7,"c":3.71,"e":0.09},{"s":4,"v":4.8,"c":3.83,"e":0.07},{"s":4,"v":4.9,"c":3.77,"e":0.1},{"s":4,"v":5.0,"c":3.75,"e":0.08},
{"s":4,"v":5.1,"c":3.81,"e":0.09},{"s":4,"v":5.2,"c":3.74,"e":0.08},{"s":4,"v":5.3,"c":3.84,"e":0.1},{"s":4,"v":5.4,"c":3.78,"e":0.09},{"s":4,"v":5.5,"c":3.73,"e":0.08},{"s":4,"v":5.6,"c":3.81,"e":0.08},{"s":4,"v":5.7,"c":3.85,"e":0.09},{"s":4,"v":5.8,"c":3.77,"e":0.07},{"s":4,"v":5.9,"c":3.88,"e":0.1},{"s":4,"v":6.0,"c":3.79,"e":0.08},
{"s":4,"v":6.1,"c":3.75,"e":0.08},{"s":4,"v":6.2,"c":3.82,"e":0.09},{"s":4,"v":6.3,"c":3.74,"e":0.08},{"s":4,"v":6.4,"c":3.85,"e":0.07},{"s":4,"v":6.5,"c":3.81,"e":0.09},{"s":4,"v":6.6,"c":3.78,"e":0.08},{"s":4,"v":6.7,"c":3.88,"e":0.09},{"s":4,"v":6.8,"c":3.79,"e":0.07},{"s":4,"v":6.9,"c":3.84,"e":0.1},{"s":4,"v":7.0,"c":3.73,"e":0.08},
{"s":4,"v":7.1,"c":3.82,"e":0.09},{"s":4,"v":7.2,"c":3.86,"e":0.08},{"s":4,"v":7.3,"c":3.77,"e":0.1},{"s":4,"v":7.4,"c":3.84,"e":0.09},{"s":4,"v":7.5,"c":3.81,"e":0.08},{"s":4,"v":7.6,"c":3.88,"e":0.08},{"s":4,"v":7.7,"c":3.77,"e":0.09},{"s":4,"v":7.8,"c":3.82,"e":0.07},{"s":4,"v":7.9,"c":3.86,"e":0.1},{"s":4,"v":8.0,"c":3.76,"e":0.08},{"s":4,"v":8.1,"c":3.84,"e":0.08}
]
},
"layer":[
{"data":{"name":"pts"},"mark":{"type":"errorbar","color":"#231f20","thickness":3},
 "encoding":{
  "x":{"field":"v","type":"quantitative","scale":{"domain":[-8.42,8.42],"nice":false,"zero":false},
   "axis":{"orient":"bottom","values":[-7,-6,-5,-4,-3,-2,-1,0,1,2,3,4,5,6,7],"labelExpr":"datum.value % 2 === 0 ? '' + datum.value : ''","labelOffset":{"condition":{"test":"datum.value < 0","value":-5},"value":0},"tickSize":-10,"tickWidth":1.6,"tickColor":"#231f20","domainColor":"#231f20","domainWidth":2.6,"labelFontSize":27,"labelColor":"#231f20","labelPadding":22,"labelFont":"Liberation Sans","title":"Velocity (mm/s)","titleFontSize":30,"titleFontWeight":"normal","titleColor":"#231f20","titleFont":"Liberation Sans","titlePadding":6}},
  "y":{"field":"c","type":"quantitative","scale":{"domain":[0,11.61],"nice":false,"zero":false},"axis":null},
  "yError":{"field":"e"}}},
{"data":{"name":"fit"},"mark":{"type":"line","color":"#ef4b2a","strokeWidth":2.8,"interpolate":"monotone"},
 "encoding":{
  "x":{"field":"v","type":"quantitative","scale":{"domain":[-8.42,8.42],"nice":false,"zero":false},"axis":{"orient":"top","values":[-7,-6,-5,-4,-3,-2,-1,0,1,2,3,4,5,6,7],"labels":false,"title":null,"tickSize":-10,"tickWidth":1.6,"tickColor":"#231f20","domainColor":"#231f20","domainWidth":2.6}},
  "y":{"field":"t","type":"quantitative","scale":{"domain":[0,11.61],"nice":false,"zero":false},"axis":null},
  "detail":{"field":"s","type":"nominal"}}},
{"data":{"name":"lab"},"mark":{"type":"text","align":"left","baseline":"alphabetic","fontSize":33,"color":"#231f20","font":"Liberation Sans"},
 "encoding":{"x":{"field":"v","type":"quantitative","axis":null},"y":{"field":"t","type":"quantitative","axis":null},"text":{"field":"label"}}}
],
"resolve":{"axis":{"x":"independent"}}
}
